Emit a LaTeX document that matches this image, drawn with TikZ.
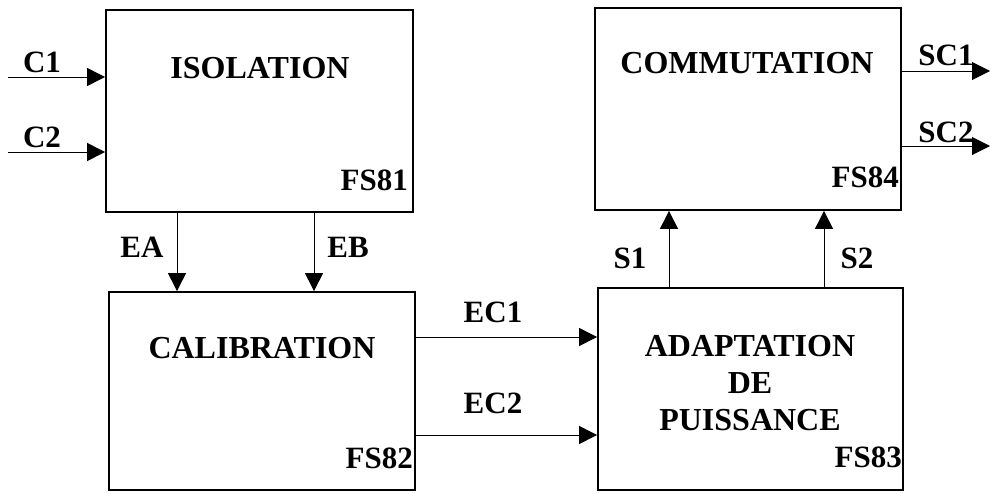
\documentclass[tikz,border=0pt]{standalone}
\usepackage{fontspec}
\setmainfont{Liberation Serif}
\usetikzlibrary{arrows.meta}
\begin{document}
\begin{tikzpicture}[x=1pt,y=-1pt,
  blk/.style={draw,line width=1.8pt,minimum width=#1,inner sep=0pt},
  ttl/.style={font=\bfseries\fontsize{32}{37}\selectfont,inner sep=0pt,align=center},
  lbl/.style={font=\bfseries\fontsize{31}{34}\selectfont,inner sep=0pt},
  fs/.style={font=\bfseries\fontsize{31}{34}\selectfont,inner sep=0pt,anchor=east},
  arr/.style={line width=1pt,-{Triangle[length=18pt,width=18pt]}}]
\useasboundingbox (0,0) rectangle (991,493);
% boxes
\node[blk=307pt,minimum height=202pt] (iso) at (259.5,111) {};
\node[blk=306pt,minimum height=198pt] (cal) at (262,391) {};
\node[blk=306pt,minimum height=202pt] (com) at (748,109) {};
\node[blk=305pt,minimum height=202pt] (ada) at (750.5,389) {};
% titles
\node[ttl] (tiso) at (260,68) {ISOLATION};
\node[ttl] (tcal) at (262,348) {CALIBRATION};
\node[ttl] (tcom) at (747,63) {COMMUTATION};
\node[ttl] (tada) at (750,383) {ADAPTATION\\DE\\PUISSANCE};
% FS labels
\node[fs] (fs81) at (408,180) {FS81};
\node[fs] (fs82) at (413,458) {FS82};
\node[fs] (fs83) at (902,457) {FS83};
\node[fs] (fs84) at (899,177) {FS84};
% coordinates
\coordinate (c1s) at (8,77);
\coordinate (c2s) at (8,152);
\coordinate (sc1e) at (990,71);
\coordinate (sc2e) at (990,146);
\coordinate (xa) at (177,0);
\coordinate (xb) at (314,0);
\coordinate (ye1) at (0,337);
\coordinate (ye2) at (0,435);
\coordinate (xs1) at (669,0);
\coordinate (xs2) at (824,0);
% connectors
\draw[arr] (c1s) -- (c1s -| iso.west);
\draw[arr] (c2s) -- (c2s -| iso.west);
\draw[arr] (sc1e -| com.east) -- (sc1e);
\draw[arr] (sc2e -| com.east) -- (sc2e);
\draw[arr] (xa |- iso.south) -- (xa |- cal.north);
\draw[arr] (xb |- iso.south) -- (xb |- cal.north);
\draw[arr] (ye1 -| cal.east) -- (ye1 -| ada.west);
\draw[arr] (ye2 -| cal.east) -- (ye2 -| ada.west);
\draw[arr] (xs1 |- ada.north) -- (xs1 |- com.south);
\draw[arr] (xs2 |- ada.north) -- (xs2 |- com.south);
% labels
\node[lbl] (lc1) at (42,62) {C1};
\node[lbl] (lc2) at (42,137) {C2};
\node[lbl] (lea) at (142,247) {EA};
\node[lbl] (leb) at (348,247) {EB};
\node[lbl] (lec1) at (493,312) {EC1};
\node[lbl] (lec2) at (493,403) {EC2};
\node[lbl] (ls1) at (630,258) {S1};
\node[lbl] (ls2) at (857,258) {S2};
\node[lbl] (lsc1) at (946,55) {SC1};
\node[lbl] (lsc2) at (946,132) {SC2};
\end{tikzpicture}
\end{document}
